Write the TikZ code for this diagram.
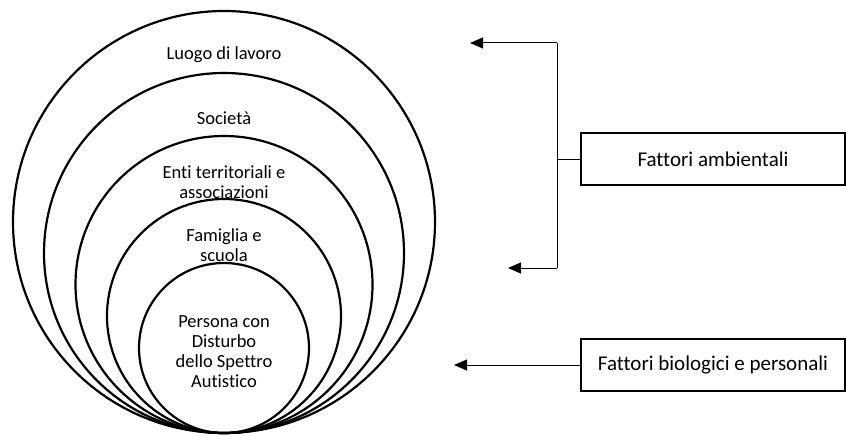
\documentclass[tikz,border=0pt]{standalone}
\usepackage{fontspec}
\setmainfont[Ligatures=NoCommon]{Carlito}
\usetikzlibrary{arrows.meta,positioning}

\begin{document}
\begin{tikzpicture}[x=1pt,y=-1pt,
	ring/.style={circle,draw,line width=2.2pt,inner sep=0pt},
	label/.style={align=center,font=\fontsize{18.5}{20}\selectfont},
	factor/.style={rectangle,draw,line width=1.1pt,inner sep=0pt,minimum width=264pt,minimum height=52pt,font=\fontsize{21}{24}\selectfont},
	paths/.style={-{Triangle[length=13pt,width=11pt]},line width=1pt},
	brace/.style={line width=1pt}
	]
\useasboundingbox (0,0) rectangle (846,436);

% nested rings, all touching at the bottom
\node [ring,minimum size=422pt] (work) at (224,222) {};
\node [ring,minimum size=360pt] (society) at (224,253) {};
\node [ring,minimum size=297pt] (local) at (224,284.5) {};
\node [ring,minimum size=234pt] (family) at (224,316) {};
\node [ring,minimum size=170pt] (person) at (224,348) {};

% ring labels
\node [label] (workl) at (224,55) {Luogo di lavoro};
\node [label] (societyl) at (224,118) {Società};
\node [label] (locall) at (224,182) {Enti territoriali e\\associazioni};
\node [label] (familyl) at (224,245) {Famiglia e\\scuola};
\node [label] (personl) at (224,352) {Persona con\\Disturbo\\dello Spettro\\Autistico};

% factor boxes
\node [factor] (env) at (713,159) {Fattori ambientali};
\node [factor] (bio) at (713,365) {Fattori biologici e personali};

% bracket corners and arrow tips
\coordinate (btop) at (557,43);
\coordinate (bmid) at (557,159);
\coordinate (bbot) at (557,268);
\coordinate (ttop) at (470,43);
\coordinate (tbot) at (508,268);
\coordinate (tbio) at (454,365);

% environmental bracket
\draw [brace] (btop) -- (bbot);
\draw [brace] (bmid) -- (env.west);
\draw [paths] (btop) -- (ttop);
\draw [paths] (bbot) -- (tbot);

% biological arrow
\draw [paths] (bio.west) -- (tbio);
\end{tikzpicture}
\end{document}
